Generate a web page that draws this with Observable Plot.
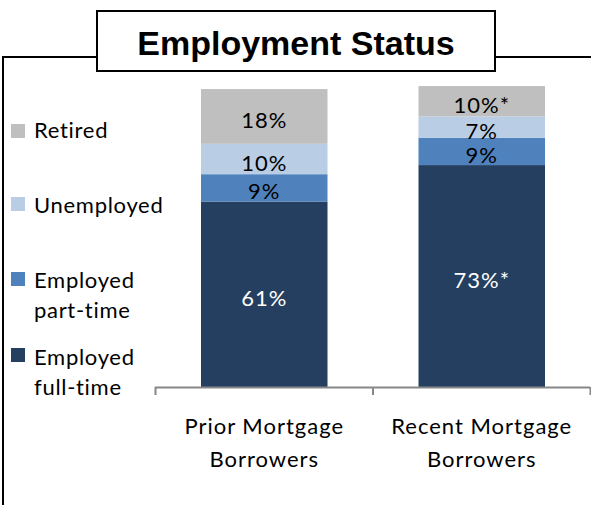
<!DOCTYPE html>
<html>
<head>
<meta charset="utf-8">
<script src="https://cdn.jsdelivr.net/npm/d3@7"></script>
<script src="https://cdn.jsdelivr.net/npm/@observablehq/plot@0.6"></script>
<style>
  html, body { margin: 0; padding: 0; background: #fff; }
  #wrap { position: relative; width: 591px; height: 505px; overflow: hidden; font-family: Lato, "Open Sans", sans-serif; }
  #frame { position: absolute; left: 2px; top: 56px; right: 0; bottom: -4px; border-left: 2px solid #000; border-top: 2px solid #000; }
  #title { position: absolute; left: 96px; top: 10px; width: 400px; height: 62px; box-sizing: border-box; border: 2px solid #000; background: #fff; overflow: hidden;
           font-family: "Liberation Sans", Arial, sans-serif; font-weight: bold; font-size: 34px; line-height: 63px; text-align: center; color: #000; }
  #chart { position: absolute; left: 0; top: 0; }
  #chart text { letter-spacing: 1px; }
  .lg { position: absolute; left: 34px; font-size: 22px; line-height: 30px; color: #000; white-space: nowrap; letter-spacing: 0.7px; }
  .sw { position: absolute; left: 11px; width: 14px; height: 14px; }
</style>
</head>
<body>
<div id="wrap">
  <div id="frame"></div>
  <div id="title">Employment Status</div>
  <div id="legend"></div>
  <div id="chart"></div>
</div>
<script>
// ---- data ----
const groups = ["Prior Mortgage\nBorrowers", "Recent Mortgage\nBorrowers"];
const statuses = ["Employed full-time", "Employed part-time", "Unemployed", "Retired"];
const colors = ["#253F60", "#4F81BD", "#B9CDE5", "#BFBFBF"];
const priorValues = [61, 9, 10, 18];
const recentValues = [73, 9, 7, 10];
const priorLabels = ["61%", "9%", "10%", "18%"];
const recentLabels = ["73%*", "9%", "7%", "10%*"];
const legendLines = [["Retired"], ["Unemployed"], ["Employed", "part-time"], ["Employed", "full-time"]];
const legendStatus = ["Retired", "Unemployed", "Employed part-time", "Employed full-time"];

// ---- build stacked rows ----
const rows = [];
[[priorValues, priorLabels], [recentValues, recentLabels]].forEach(([vals, labs], gi) => {
  let acc = 0;
  vals.forEach((v, si) => {
    rows.push({group: groups[gi], gi, status: statuses[si], value: v, label: labs[si],
               y1: acc, y2: acc + v, dark: si === 0});
    acc += v;
  });
});

const plot = Plot.plot({
  width: 591,
  height: 505,
  marginLeft: 155,
  marginRight: 1,
  marginTop: 83,
  marginBottom: 118,
  x: {domain: [0, 2], axis: null},
  y: {domain: [0, 100], axis: null},
  color: {domain: statuses, range: colors},
  style: {fontFamily: "Lato, 'Open Sans', sans-serif", background: "transparent"},
  marks: [
    Plot.rect(rows, {x1: d => d.gi, x2: d => d.gi + 1, y1: "y1", y2: "y2", fill: "status",
                     insetLeft: 46, insetRight: 45}),
    Plot.text(rows, {x: d => d.gi + 0.5, y: d => (d.y1 + d.y2) / 2, text: "label",
                     fill: d => d.dark ? "#fff" : "#000", fontSize: 22, dy: 4}),
    Plot.ruleY([0], {stroke: "#878787", strokeWidth: 2}),
    Plot.axisX({ticks: [0, 1, 2], tickSize: 8, tickFormat: () => "", stroke: "#878787", strokeWidth: 2, label: null}),
    Plot.text(groups, {x: (d, i) => i + 0.5, y: 0, text: d => d, fontSize: 22, fill: "#000",
                       lineAnchor: "top", lineHeight: 1.5, dy: 23})
  ]
});
document.getElementById("chart").appendChild(plot);

// ---- legend ----
const lg = document.getElementById("legend");
const swatchTop = [124, 197, 272, 348];
const textTop = [115, 190, 265, 342];
legendStatus.forEach((s, i) => {
  const sw = document.createElement("div");
  sw.className = "sw";
  sw.style.top = swatchTop[i] + "px";
  sw.style.background = colors[statuses.indexOf(s)];
  lg.appendChild(sw);
  const t = document.createElement("div");
  t.className = "lg";
  t.style.top = textTop[i] + "px";
  t.innerHTML = legendLines[i].join("<br>");
  lg.appendChild(t);
});
</script>
</body>
</html>
